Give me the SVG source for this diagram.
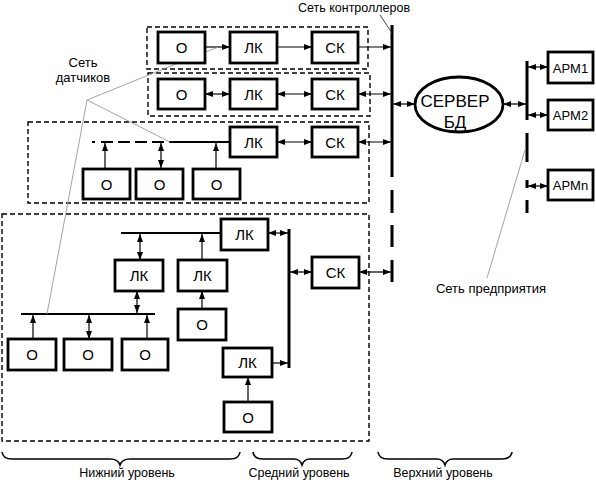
<svg xmlns="http://www.w3.org/2000/svg" width="596" height="497" viewBox="0 0 596 497">
<defs>
<marker id="ah" viewBox="0 0 8 6" refX="8" refY="3" markerWidth="8" markerHeight="6" markerUnits="userSpaceOnUse" orient="auto-start-reverse">
<path d="M0,0 L8,3 L0,6 z" fill="#000"/>
</marker>
<style>
.box{fill:#fff;stroke:#000;stroke-width:2.8}
.grp{fill:none;stroke:#000;stroke-width:1.4;stroke-dasharray:5,3}
.t{font-family:"Liberation Sans",Arial,sans-serif;font-size:15px;text-anchor:middle;fill:#000}
.lbl{font-family:"Liberation Sans",Arial,sans-serif;font-size:13px;text-anchor:middle;fill:#000}
.a{stroke:#000;stroke-width:1.2;fill:none;marker-end:url(#ah)}
.d{stroke:#000;stroke-width:1.2;fill:none;marker-end:url(#ah);marker-start:url(#ah)}
.bus{stroke:#000;stroke-width:3;fill:none}
.sbus{stroke:#000;stroke-width:2;fill:none}
.lead{stroke:#999;stroke-width:0.9;fill:none}
.br{stroke:#000;stroke-width:1.6;fill:none}
</style>
</defs>
<rect width="596" height="497" fill="#fff"/>

<g id="groups">
<rect class="grp" x="147" y="27" width="221" height="42"/>
<rect class="grp" x="148" y="73" width="222" height="43"/>
<rect class="grp" x="28" y="122" width="341" height="81"/>
<rect class="grp" x="2" y="214" width="367" height="227"/>
</g>

<g id="connectors">
<path class="bus" d="M392,25 V177 M392,190 V213 M392,225 V247 M392,260 V282"/>
<path class="bus" d="M527,61 V120 M527,133 V162 M527,180 V188 M527,200 V213"/>
<line class="a" x1="205" y1="47" x2="230" y2="47"/>
<line class="a" x1="277" y1="47" x2="312" y2="47"/>
<line class="a" x1="358" y1="47" x2="391" y2="47"/>
<line class="d" x1="205" y1="94" x2="230" y2="94"/>
<line class="d" x1="277" y1="94" x2="312" y2="94"/>
<line class="d" x1="358" y1="94" x2="391" y2="94"/>
<line class="d" x1="277" y1="142" x2="312" y2="142"/>
<line class="d" x1="358" y1="142" x2="391" y2="142"/>
<path class="sbus" stroke-width="1.6" d="M92,142 H170" stroke-dasharray="3,6,12,5,12,5,12,5,12,5"/>
<line class="sbus" stroke-width="1.6" x1="170" y1="142" x2="230" y2="142"/>
<line class="a" x1="105" y1="169" x2="105" y2="143"/>
<line class="d" x1="161" y1="168" x2="161" y2="143"/>
<line class="a" x1="216" y1="169" x2="216" y2="143"/>
<line class="d" x1="393" y1="104" x2="415" y2="104"/>
<line class="d" x1="503" y1="104" x2="526" y2="104"/>
<line class="d" x1="528" y1="67" x2="548" y2="67"/>
<line class="d" x1="528" y1="115" x2="548" y2="115"/>
<line class="d" x1="528" y1="186" x2="548" y2="186"/>
<line class="sbus" x1="121" y1="233" x2="221" y2="233"/>
<line class="d" x1="140" y1="234" x2="140" y2="260"/>
<line class="a" x1="202" y1="260" x2="202" y2="234"/>
<line class="a" x1="202" y1="309" x2="202" y2="291"/>
<line class="sbus" x1="21" y1="314" x2="155" y2="314"/>
<line class="d" x1="137" y1="291" x2="137" y2="313"/>
<line class="a" x1="33" y1="339" x2="33" y2="315"/>
<line class="d" x1="89" y1="339" x2="89" y2="315"/>
<line class="a" x1="147" y1="339" x2="147" y2="315"/>
<line class="a" x1="248" y1="402" x2="248" y2="377"/>
<line class="bus" stroke-width="2.6" x1="289" y1="229" x2="289" y2="368"/>
<line class="d" x1="268" y1="233" x2="288" y2="233"/>
<line class="a" x1="272" y1="363" x2="288" y2="363"/>
<line class="d" x1="290" y1="272" x2="312" y2="272"/>
<line class="d" x1="359" y1="272" x2="391" y2="272"/>
<line x1="380" y1="15" x2="392" y2="33" stroke="#333" stroke-width="0.9"/>
<line class="lead" x1="87" y1="100" x2="218" y2="47"/>
<line class="lead" x1="87" y1="100" x2="170" y2="142"/>
<line class="lead" x1="87" y1="100" x2="47" y2="314"/>
<line class="lead" x1="525" y1="150" x2="487" y2="278"/>
</g>

<g id="n-r1-o"><rect class="box" x="158" y="32" width="47" height="31"/><text class="t" x="181.5" y="53">О</text></g>
<g id="n-r1-lk"><rect class="box" x="230" y="32" width="47" height="31"/><text class="t" x="253.5" y="53">ЛК</text></g>
<g id="n-r1-sk"><rect class="box" x="312" y="32" width="46" height="31"/><text class="t" x="335" y="53">СК</text></g>

<g id="n-r2-o"><rect class="box" x="158" y="79" width="47" height="30"/><text class="t" x="181.5" y="99.5">О</text></g>
<g id="n-r2-lk"><rect class="box" x="230" y="79" width="47" height="30"/><text class="t" x="253.5" y="99.5">ЛК</text></g>
<g id="n-r2-sk"><rect class="box" x="312" y="79" width="46" height="30"/><text class="t" x="335" y="99.5">СК</text></g>

<g id="n-r3-lk"><rect class="box" x="230" y="127" width="47" height="30"/><text class="t" x="253.5" y="147.5">ЛК</text></g>
<g id="n-r3-sk"><rect class="box" x="312" y="127" width="46" height="30"/><text class="t" x="335" y="147.5">СК</text></g>
<g id="n-r3-o1"><rect class="box" x="83" y="169" width="47" height="30"/><text class="t" x="106.5" y="189.5">О</text></g>
<g id="n-r3-o2"><rect class="box" x="136" y="169" width="47" height="30"/><text class="t" x="159.5" y="189.5">О</text></g>
<g id="n-r3-o3"><rect class="box" x="193" y="169" width="47" height="30"/><text class="t" x="216.5" y="189.5">О</text></g>

<g id="n-b-lk-top"><rect class="box" x="221" y="219" width="47" height="31"/><text class="t" x="244.5" y="240">ЛК</text></g>
<g id="n-b-lk-l"><rect class="box" x="115" y="260" width="48" height="31"/><text class="t" x="139" y="281">ЛК</text></g>
<g id="n-b-lk-r"><rect class="box" x="178" y="260" width="49" height="31"/><text class="t" x="202.5" y="281">ЛК</text></g>
<g id="n-b-o-r"><rect class="box" x="178" y="309" width="48" height="31"/><text class="t" x="202" y="330">О</text></g>
<g id="n-b-o1"><rect class="box" x="8" y="339" width="48" height="31"/><text class="t" x="32" y="360">О</text></g>
<g id="n-b-o2"><rect class="box" x="64" y="339" width="48" height="31"/><text class="t" x="88" y="360">О</text></g>
<g id="n-b-o3"><rect class="box" x="122" y="339" width="46" height="31"/><text class="t" x="145" y="360">О</text></g>
<g id="n-b-lk-bot"><rect class="box" x="223" y="348" width="49" height="29"/><text class="t" x="247.5" y="368">ЛК</text></g>
<g id="n-b-o-bot"><rect class="box" x="224" y="402" width="48" height="30"/><text class="t" x="248" y="422.5">О</text></g>
<g id="n-b-sk"><rect class="box" x="312" y="257" width="47" height="31"/><text class="t" x="335.5" y="278">СК</text></g>

<g id="n-server"><ellipse cx="459" cy="104.5" rx="44" ry="27.5" fill="#fff" stroke="#000" stroke-width="2.8"/>
<text class="t" x="455" y="107" style="font-size:17px">СЕРВЕР</text>
<text class="t" x="455" y="128" style="font-size:17px">БД</text></g>

<g id="n-apm1"><rect class="box" x="548" y="52" width="45" height="31"/><text class="t" x="570.5" y="72.5" style="font-size:13px">АРМ1</text></g>
<g id="n-apm2"><rect class="box" x="548" y="100" width="45" height="30"/><text class="t" x="570.5" y="120" style="font-size:13px">АРМ2</text></g>
<g id="n-apmn"><rect class="box" x="548" y="170" width="45" height="30"/><text class="t" x="570.5" y="190" style="font-size:13px">АРМn</text></g>

<g id="labels">
<text class="lbl" x="354" y="12" style="font-size:12.5px">Сеть контроллеров</text>
<text class="lbl" x="83" y="67">Сеть</text>
<text class="lbl" x="83" y="82">датчиков</text>
<text class="lbl" x="491" y="293">Сеть предприятия</text>
<text class="lbl" x="127" y="477" style="font-size:12.5px">Нижний уровень</text>
<text class="lbl" x="299" y="477" style="font-size:12.5px">Средний уровень</text>
<text class="lbl" x="443" y="477" style="font-size:12.5px">Верхний уровень</text>
</g>

<g id="braces">
<path class="br" d="M2,452 Q3,459 12,459 L110,459 Q118,459 120,465 Q122,459 130,459 L230,459 Q239,459 240,452"/>
<path class="br" d="M253,452 Q254,459 263,459 L294,459 Q300,459 302,465 Q304,459 310,459 L342,459 Q351,459 352,452"/>
<path class="br" d="M378,452 Q379,459 388,459 L437,459 Q443,459 445,465 Q447,459 453,459 L502,459 Q511,459 512,452"/>
</g>
</svg>
